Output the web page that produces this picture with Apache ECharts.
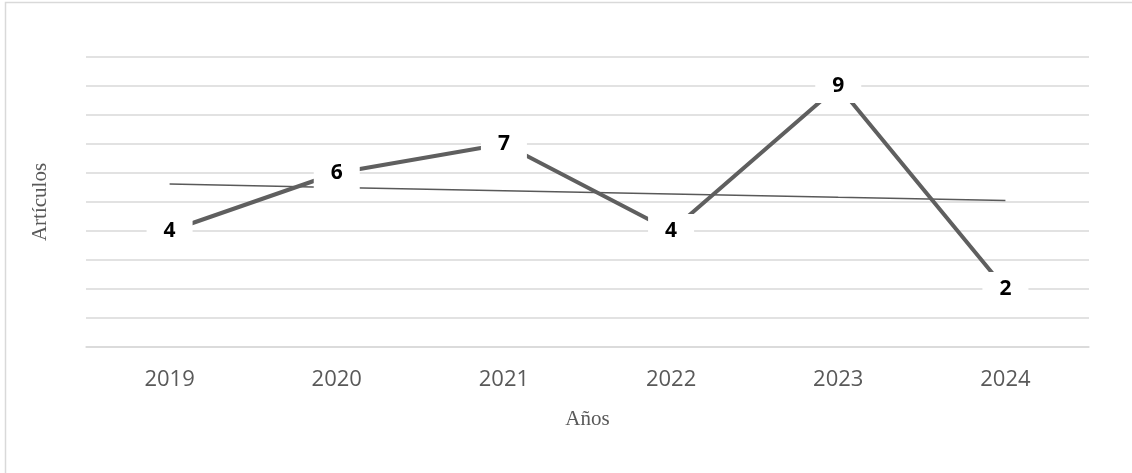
<!DOCTYPE html>
<html>
<head>
<meta charset="utf-8">
<script src="https://cdn.jsdelivr.net/npm/echarts@6/dist/echarts.min.js"></script>
<style>
  html, body { margin: 0; padding: 0; background: #fff; }
  #chart { width: 1132px; height: 473px; }
</style>
</head>
<body>
<div id="chart"></div>
<script>
// Artículos publicados por año
const years = ['2019', '2020', '2021', '2022', '2023', '2024'];
const articles = [4, 6, 7, 4, 9, 2];
// Línea de tendencia lineal
const trend = [5.62, 5.50, 5.39, 5.28, 5.16, 5.05];

const chart = echarts.init(document.getElementById('chart'), null, { renderer: 'canvas' });

chart.setOption({
  animation: false,
  backgroundColor: '#ffffff',
  grid: { left: 86, right: 43, top: 57, bottom: 126 },
  graphic: [{
    type: 'polyline',
    shape: { points: [[5.5, 473], [5.5, 2.5], [1132, 2.5]] },
    style: { stroke: '#d9d9d9', lineWidth: 1.5, fill: null },
    silent: true
  }],
  xAxis: {
    type: 'category',
    data: years,
    boundaryGap: true,
    axisLine: { show: true, lineStyle: { color: '#d9d9d9', width: 1.5 } },
    axisTick: { show: false },
    axisLabel: {
      color: '#595959',
      fontFamily: 'Open Sans',
      fontSize: 22,
      margin: 22
    },
    name: 'Años',
    nameLocation: 'middle',
    nameGap: 62,
    nameTextStyle: { color: '#595959', fontFamily: 'Liberation Serif', fontSize: 21 }
  },
  yAxis: {
    type: 'value',
    min: 0,
    max: 10,
    interval: 1,
    axisLine: { show: false },
    axisTick: { show: false },
    axisLabel: { show: false },
    splitLine: { show: true, lineStyle: { color: '#d9d9d9', width: 1.5 } },
    name: 'Artículos',
    nameLocation: 'middle',
    nameGap: 35,
    nameRotate: 90,
    nameTextStyle: { color: '#595959', fontFamily: 'Liberation Serif', fontSize: 21 }
  },
  series: [
    {
      name: 'Tendencia',
      type: 'line',
      data: trend,
      symbol: 'none',
      lineStyle: { color: '#595959', width: 1.5 },
      z: 2,
      silent: true
    },
    {
      name: 'Artículos',
      type: 'line',
      data: articles,
      symbol: 'circle',
      symbolSize: 1,
      itemStyle: { color: '#5f5f5f' },
      lineStyle: { color: '#5f5f5f', width: 4 },
      z: 3,
      label: {
        show: true,
        position: 'inside',
        color: '#000000',
        fontFamily: 'Open Sans',
        fontWeight: 'bold',
        fontSize: 21,
        lineHeight: 18,
        backgroundColor: '#ffffff',
        padding: [8, 17]
      }
    }
  ]
});
</script>
</body>
</html>
